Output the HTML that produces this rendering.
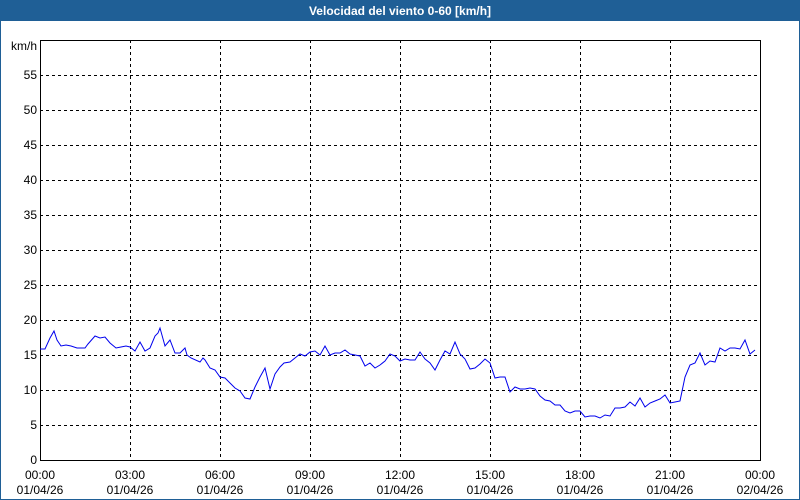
<!DOCTYPE html>
<html><head><meta charset="utf-8"><style>
html,body{margin:0;padding:0;width:800px;height:500px;overflow:hidden;background:#fff;font-family:"Liberation Sans",sans-serif}
</style></head><body>
<svg width="800" height="500" xmlns="http://www.w3.org/2000/svg" style="display:block">
<rect x="0" y="0" width="800" height="500" fill="#fff"/>
<rect x="0" y="0" width="800" height="21" fill="#1f5f96"/>
<rect x="0.5" y="0.5" width="799" height="499" fill="none" stroke="#1f5f96"/>
<text x="400" y="15" fill="#fff" font-size="12" font-weight="bold" text-anchor="middle" font-family="Liberation Sans, sans-serif">Velocidad del viento 0-60 [km/h]</text>
<g stroke="#000" stroke-dasharray="3,3" stroke-width="1" fill="none">
<path d="M40 75.5H760M40 110.5H760M40 145.5H760M40 180.5H760M40 215.5H760M40 250.5H760M40 285.5H760M40 320.5H760M40 355.5H760M40 390.5H760M40 425.5H760"/>
<path d="M130.5 40V460M220.5 40V460M310.5 40V460M400.5 40V460M490.5 40V460M580.5 40V460M670.5 40V460"/>
</g>
<rect x="40.5" y="40.5" width="720" height="420" fill="none" stroke="#000"/>
<g font-size="12" fill="#000" text-anchor="end" font-family="Liberation Sans, sans-serif">
<text x="37" y="50">km/h</text>
<text x="37" y="79">55</text><text x="37" y="114">50</text><text x="37" y="149">45</text><text x="37" y="184">40</text><text x="37" y="219">35</text><text x="37" y="254">30</text><text x="37" y="289">25</text><text x="37" y="324">20</text><text x="37" y="359">15</text><text x="37" y="394">10</text><text x="37" y="429">5</text><text x="37" y="464">0</text>
</g>
<g font-size="12" fill="#000" text-anchor="middle" font-family="Liberation Sans, sans-serif">
<text x="40" y="479">00:00</text><text x="40" y="494">01/04/26</text>
<text x="130" y="479">03:00</text><text x="130" y="494">01/04/26</text>
<text x="220" y="479">06:00</text><text x="220" y="494">01/04/26</text>
<text x="310" y="479">09:00</text><text x="310" y="494">01/04/26</text>
<text x="400" y="479">12:00</text><text x="400" y="494">01/04/26</text>
<text x="490" y="479">15:00</text><text x="490" y="494">01/04/26</text>
<text x="580" y="479">18:00</text><text x="580" y="494">01/04/26</text>
<text x="670" y="479">21:00</text><text x="670" y="494">01/04/26</text>
<text x="760" y="479">00:00</text><text x="760" y="494">02/04/26</text>
</g>
<polyline fill="none" stroke="#0000ee" stroke-width="1" points="40,349 45,349 50,338 54,331 57,340 61,346 66,345 71,346 77,348 81,348 85,348 88,344 95,336 100,338 105,337 110,343 116,348 121,347 126,346 130,347 135,351 140,342 145,351 150,348 155,336 158,333 160,328 165,346 170,340 175,353 180,353 185,348 187,355 191,358 200,362 203,358 205,360 210,368 215,370 220,377 225,378 230,383 235,388 240,391 245,398 250,399 255,387 260,377 265,368 270,389 275,374 280,367 284,363 290,362 295,358 300,354 305,356 310,352 315,351 320,355 325,346 330,355 335,353 340,353 345,350 350,354 355,355 360,356 365,366 370,363 375,368 380,365 385,361 390,354 395,356 400,361 405,359 410,360 415,360 420,352 425,359 430,363 435,370 440,360 445,351 450,354 455,342 460,354 465,359 470,369 475,368 480,364 485,359 490,363 495,378 500,377 505,377 510,392 515,387 520,389 525,389 530,388 535,389 540,396 545,400 550,401 555,405 560,405 565,411 570,413 575,411 580,411 585,417 590,416 595,416 600,418 605,415 610,416 615,408 620,408 625,407 630,402 635,406 640,398 645,407 650,403 655,401 660,399 665,395 670,403 675,402 680,401 685,377 690,365 695,363 700,353 705,365 710,361 715,362 720,348 725,351 730,348 735,348 740,349 745,340 750,354 755,350"/>
</svg>
</body></html>
